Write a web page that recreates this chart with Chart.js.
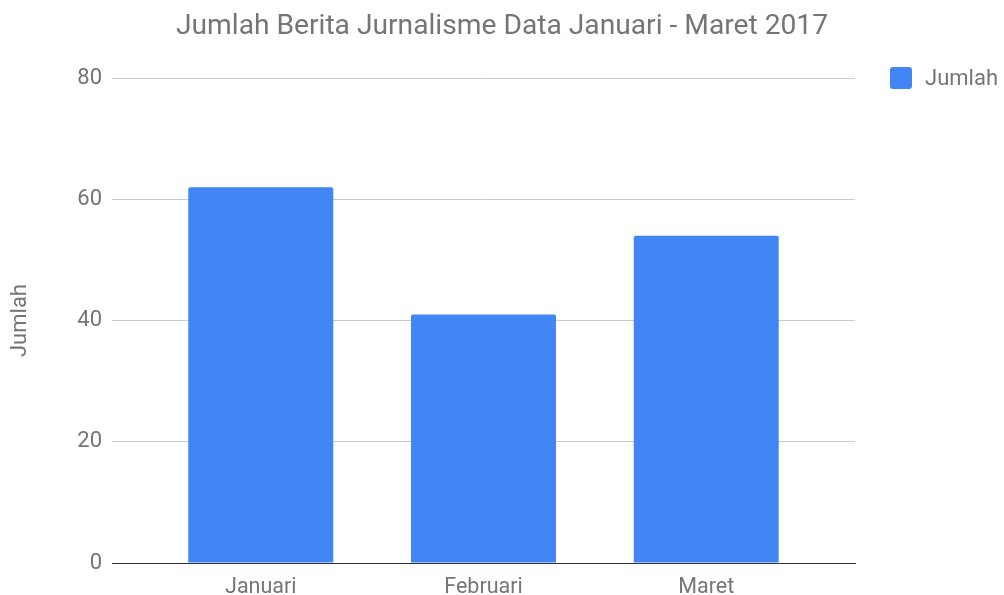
<!DOCTYPE html>
<html>
<head>
<meta charset="utf-8">
<script src="https://cdn.jsdelivr.net/npm/chart.js@4"></script>
<style>
  html, body { margin: 0; padding: 0; background: #fff; }
  #wrap { width: 1004px; height: 595px; }
</style>
</head>
<body>
<div id="wrap"><canvas id="grafik"></canvas></div>
<script>
// data
const bulan = ['Januari', 'Februari', 'Maret'];
const jumlah = [62, 41, 54];
const labelSeri = 'Jumlah';
const judul = 'Jumlah Berita Jurnalisme Data Januari - Maret 2017';

const abu = '#757575';
const biru = '#4285F4';

// legenda kecil di kanan atas, digambar sendiri
const legendaKanan = {
  id: 'legendaKanan',
  afterDraw(chart) {
    const ctx = chart.ctx;
    const area = chart.chartArea;
    const ds = chart.data.datasets[0];
    const x = area.right + 35, y = area.top - 11;
    ctx.save();
    ctx.fillStyle = ds.backgroundColor;
    ctx.beginPath();
    ctx.roundRect(x, y, 22, 22, 3);
    ctx.fill();
    ctx.fillStyle = abu;
    ctx.font = '22px Roboto';
    ctx.textBaseline = 'middle';
    ctx.fillText(ds.label, x + 35, y + 12);
    ctx.restore();
  }
};

new Chart(document.getElementById('grafik'), {
  type: 'bar',
  data: {
    datasets: [{
      label: labelSeri,
      data: jumlah.map((v, i) => ({ x: i, y: v })),
      backgroundColor: biru,
      borderRadius: 2,
      barPercentage: 0.651,
      categoryPercentage: 1
    }]
  },
  options: {
    responsive: true,
    maintainAspectRatio: false,
    animation: false,
    layout: { padding: 0 },
    plugins: {
      legend: { display: false },
      tooltip: { enabled: false },
      title: {
        display: true,
        text: judul,
        color: abu,
        font: { family: 'Roboto', size: 28.2, weight: 'normal' },
        padding: { top: 10, bottom: 34.2 }
      }
    },
    scales: {
      x: {
        type: 'linear',
        bounds: 'data',
        offset: false,
        min: -0.668,
        max: bulan.length - 1 + 0.668,
        grid: { display: false, offset: false },
        border: { color: '#333', width: 1 },
        afterBuildTicks(s) { s.ticks = bulan.map((_, i) => ({ value: i })); },
        ticks: {
          color: abu,
          font: { family: 'Roboto', size: 21.5 },
          padding: 4,
          maxRotation: 0,
          autoSkip: false,
          callback: (v) => bulan[v]
        },
        afterFit(s) { s.height = 32; }
      },
      y: {
        min: 0,
        max: 80,
        ticks: { stepSize: 20, color: abu, font: { family: 'Roboto', size: 22 }, padding: 10 },
        grid: { color: '#cccccc', drawTicks: false },
        border: { display: false },
        title: {
          display: true,
          text: labelSeri,
          color: abu,
          font: { family: 'Roboto', size: 22 },
          padding: { top: 7, bottom: 0 }
        },
        afterFit(s) { s.width = 112; }
      },
      // ruang kosong di kanan untuk legenda
      kanan: {
        position: 'right',
        display: true,
        grid: { display: false },
        border: { display: false },
        ticks: { display: false },
        afterFit(s) { s.width = 149; }
      }
    }
  },
  plugins: [legendaKanan]
});
</script>
</body>
</html>
